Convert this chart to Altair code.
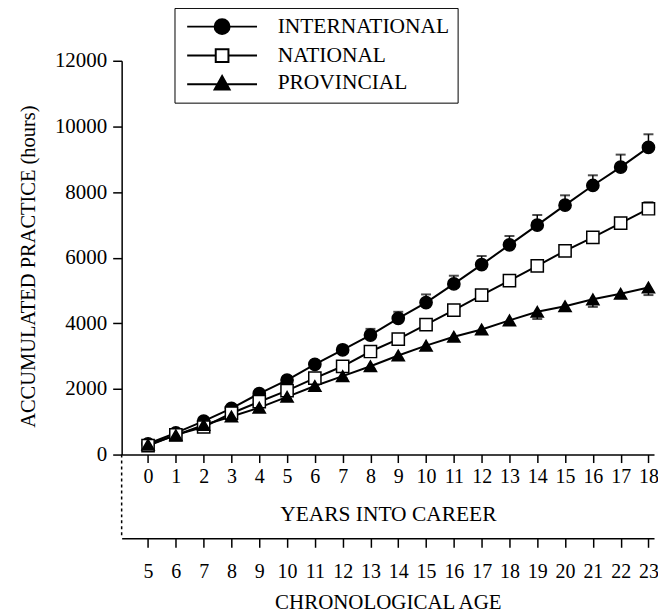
import altair as alt
import pandas as pd

years = list(range(19))
ages = [y + 5 for y in years]
series_names = ["INTERNATIONAL", "NATIONAL", "PROVINCIAL"]

intl = [330, 660, 1020, 1410, 1860, 2270, 2750, 3190, 3640, 4150, 4630, 5200, 5790, 6390, 6990, 7600, 8200, 8760, 9360]
natl = [270, 600, 840, 1260, 1610, 1950, 2330, 2690, 3140, 3520, 3960, 4400, 4860, 5300, 5750, 6210, 6620, 7050, 7490]
prov = [300, 590, 900, 1160, 1430, 1760, 2090, 2390, 2690, 3020, 3320, 3590, 3810, 4090, 4350, 4520, 4730, 4900, 5090]

intl_err = [40, 50, 60, 70, 90, 100, 110, 130, 190, 200, 250, 250, 260, 270, 310, 300, 310, 380, 400]
natl_err = [30, 40, 50, 60, 60, 70, 80, 90, 100, 100, 100, 100, 110, 130, 160, 130, 120, 150, 200]
prov_err = [30, 40, 50, 50, 60, 60, 70, 70, 80, 90, 100, 100, 100, 120, 220, 110, 230, 100, 230]
err_direction = [1, 1, -1]

rows = []
for name, vals, errs, d in zip(series_names, [intl, natl, prov],
                               [intl_err, natl_err, prov_err], err_direction):
    for y, v, e in zip(years, vals, errs):
        rows.append(dict(series=name, year=y, age=y + 5, hours=v, err_end=v + d * e))
df = pd.DataFrame(rows)

FONT = "Liberation Serif"
H = 395
W = 534
XDOM = [-0.95, 18.2]
AGEDOM = [XDOM[0] + 5, XDOM[1] + 5]

point_shapes = ["circle", "square", "triangle-up"]
point_fills = ["black", "white", "black"]
legend_shapes = [
    "M-4.67,0H-1M1,0H4.67M-1,0A1,1,0,1,1,1,0A1,1,0,1,1,-1,0Z",
    "M-4.67,0H-0.85M0.85,0H4.67M-0.85,-0.85H0.85V0.85H-0.85Z",
    "M-4.67,0.1H4.67M0,-1L1,0.8L-1,0.8Z",
]

base = alt.Chart(df)

x_axis = alt.Axis(values=years, title="YEARS INTO CAREER", tickSize=8,
                  labelPadding=4, titlePadding=17, labelFontSize=20,
                  titleFontSize=21.5, labelFlush=False, labelOverlap=False)
x_years = alt.X("year:Q", scale=alt.Scale(domain=XDOM, nice=False, zero=False), axis=x_axis)
y_hours = alt.Y(
    "hours:Q",
    scale=alt.Scale(domain=[0, 12000], nice=False),
    axis=alt.Axis(values=list(range(0, 12001, 1000)), format="d",
                  labelExpr="datum.value % 2000 === 0 ? datum.label : ''",
                  title="ACCUMULATED PRACTICE (hours)", tickSize=9,
                  labelPadding=6, titlePadding=16, labelFontSize=21,
                  titleFontSize=20.5, titleY=206, labelOverlap=False),
)

lines = base.mark_line(color="black", strokeWidth=2).encode(
    x=x_years, y=y_hours, detail="series:N"
)
err_rules = base.mark_rule(color="black", strokeWidth=1.5).encode(
    x=x_years, y=y_hours, y2="err_end:Q"
)
err_caps = base.mark_tick(color="black", orient="horizontal", size=10, thickness=2).encode(
    x=x_years, y=alt.Y("err_end:Q")
)
points = base.mark_point(filled=False, stroke="black", strokeWidth=1.5, opacity=1, size=150).encode(
    x=x_years,
    y=y_hours,
    shape=alt.Shape("series:N", scale=alt.Scale(domain=series_names, range=point_shapes), legend=None),
    fill=alt.Fill("series:N", scale=alt.Scale(domain=series_names, range=point_fills), legend=None),
)

leg = dict(orient="none", legendX=53, legendY=-53, title=None, labelFont=FONT,
           labelFontSize=21.5, labelColor="black", strokeColor="black", labelLimit=0,
           padding=8, rowPadding=5, symbolSize=225, symbolStrokeWidth=2,
           symbolStrokeColor="black", symbolOffset=29, labelOffset=45)

legend_layer = base.transform_filter("false").mark_point(
    filled=False, strokeWidth=2, opacity=1
).encode(
    x=x_years,
    y=y_hours,
    shape=alt.Shape("series:N", scale=alt.Scale(domain=series_names, range=legend_shapes),
                    legend=alt.Legend(**leg)),
    fill=alt.Fill("series:N", scale=alt.Scale(domain=series_names, range=point_fills),
                  legend=alt.Legend(**leg)),
    stroke=alt.Stroke("series:N", scale=alt.Scale(domain=series_names, range=["black"] * 3),
                      legend=alt.Legend(**leg)),
)

inner = alt.layer(lines, err_rules, err_caps, points, legend_layer).resolve_scale(
    shape="independent", fill="independent", stroke="independent"
).resolve_legend(shape="independent", fill="independent", stroke="independent")

age_layer = base.mark_point(opacity=0).encode(
    x=alt.X("age:Q", scale=alt.Scale(domain=AGEDOM, nice=False, zero=False),
            axis=alt.Axis(orient="bottom", offset=84, values=ages,
                          title="CHRONOLOGICAL AGE", tickSize=9, labelPadding=14,
                          titlePadding=10, labelFontSize=20, titleFontSize=21,
                          labelFlush=False, labelOverlap=False)),
    y=y_hours,
)

dash = base.transform_filter("datum.year == 0 && datum.series == 'INTERNATIONAL'").mark_rule(
    color="black", strokeWidth=1.5, strokeDash=[3, 3]
).encode(x=alt.value(0), y=alt.value(H), y2=alt.value(H + 84))

chart = alt.layer(inner, age_layer, dash).resolve_scale(x="independent").properties(
    width=W, height=H, background="white",
    autosize=alt.AutoSizeParams(type="none"),
    padding={"left": 114, "top": 52, "right": 4, "bottom": 160},
).configure_view(stroke=None).configure_axis(
    grid=False, domainColor="black", domainWidth=1.5, tickColor="black", tickWidth=1.5,
    labelFont=FONT, titleFont=FONT, labelColor="black", titleColor="black",
    titleFontWeight="normal",
)

chart.save("out.html", embed_options={"renderer": "svg", "actions": False})
